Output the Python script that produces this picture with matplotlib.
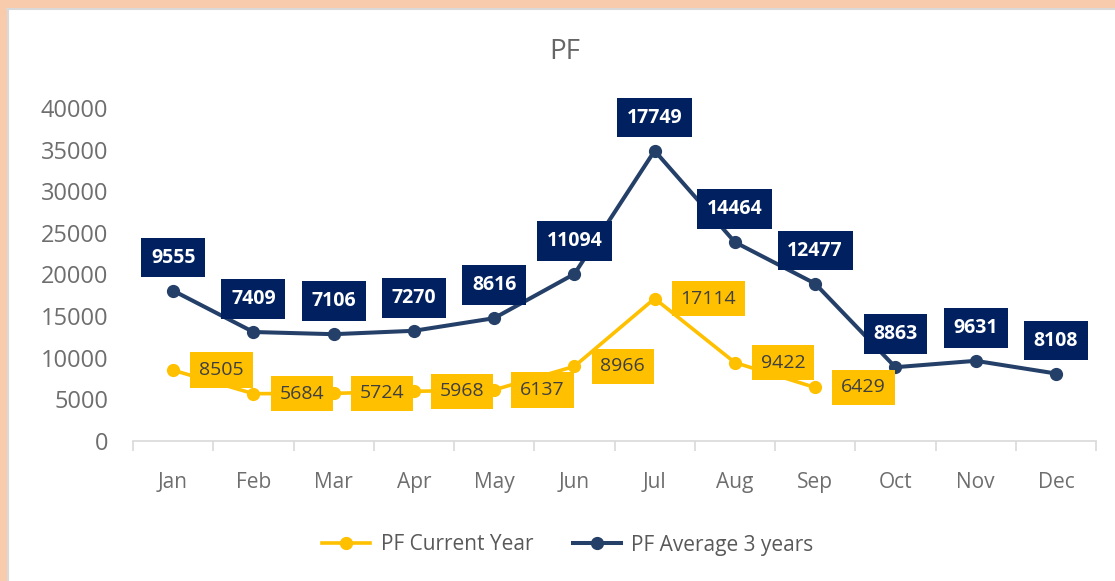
import numpy as np
import matplotlib.pyplot as plt
from matplotlib.patches import Rectangle
from matplotlib.lines import Line2D

months = ["Jan", "Feb", "Mar", "Apr", "May", "Jun",
          "Jul", "Aug", "Sep", "Oct", "Nov", "Dec"]
current_year = [8505, 5684, 5724, 5968, 6137, 8966, 17114, 9422, 6429,
                np.nan, np.nan, np.nan]
average_3y = [9555, 7409, 7106, 7270, 8616, 11094, 17749, 14464, 12477,
              8863, 9631, 8108]

plt.rcParams['font.family'] = ['Open Sans', 'DejaVu Sans']

x = np.arange(len(months))
cur = np.array(current_year, dtype=float)
avg = np.array(average_3y, dtype=float)
# stacked line chart: the 3-year average is drawn on top of the current year
avg_stacked = np.nan_to_num(cur) + avg

W, H = 1115, 581
fig = plt.figure(figsize=(W / 100, H / 100), dpi=100)

# peach frame on top and left edge
fig.patches.append(Rectangle((0, 1 - 7 / H), 1, 7 / H, transform=fig.transFigure,
                             color='#F8CBAD', zorder=0))
fig.patches.append(Rectangle((0, 0), 6 / W, 1, transform=fig.transFigure,
                             color='#F8CBAD', zorder=0))
fig.lines.append(Line2D([7 / W, 1], [1 - 9 / H, 1 - 9 / H], transform=fig.transFigure,
                        color='#D9D9D9', lw=1.5))
fig.lines.append(Line2D([7.5 / W, 7.5 / W], [0, 1 - 9 / H], transform=fig.transFigure,
                        color='#D9D9D9', lw=1.5))

fig.text(565 / W, 1 - 52 / H, "PF", ha='center', va='center',
         fontsize=20, color='#666666')

ax = fig.add_axes([133 / W, 140 / H, 963 / W, 333 / H])

ax.plot(x, cur, color='#FFC000', lw=2.6, marker='o', ms=8.5,
        label='PF Current Year', zorder=3)
ax.plot(x, avg_stacked, color='#243F68', lw=2.9, marker='o', ms=8.5,
        label='PF Average 3 years', zorder=3)

# data labels
for xi, yi, v in zip(x, avg_stacked, avg):
    ax.annotate(f"{v:.0f}", (xi, yi), xytext=(0, 33), textcoords='offset pixels',
                ha='center', va='center', color='white', fontweight='bold', fontsize=14,
                bbox=dict(boxstyle='square,pad=0.5', fc='#002060', ec='none'), zorder=5)
for xi, v in zip(x, cur):
    if np.isnan(v):
        continue
    ax.annotate(f"{v:.0f}", (xi, v), xytext=(26, 0), textcoords='offset pixels',
                ha='left', va='center', color='#3F3F3F', fontsize=14,
                bbox=dict(boxstyle='square,pad=0.45', fc='#FFC000', ec='none'), zorder=5)

ax.set_xlim(-0.5, 11.5)
ax.set_ylim(0, 40000)
ax.set_yticks(np.arange(0, 40001, 5000))
ax.set_xticks(x, months)
ax.set_xticks(np.arange(-0.5, 12, 1), minor=True)

for s in ['top', 'right', 'left']:
    ax.spines[s].set_visible(False)
ax.spines['bottom'].set_color('#D9D9D9')
ax.spines['bottom'].set_linewidth(1.2)

ax.tick_params(axis='y', length=0, pad=18, labelsize=17, labelcolor='#6E6E6E')
ax.tick_params(axis='x', which='major', length=0, pad=22, labelsize=15,
               labelcolor='#6E6E6E')
ax.tick_params(axis='x', which='minor', length=7, color='#D9D9D9', width=1.2)

leg = ax.legend(loc='center', bbox_to_anchor=(568 / W, 1 - 545 / H),
                bbox_transform=fig.transFigure, ncol=2, frameon=False, fontsize=15,
                handlelength=2.3, handletextpad=0.5, columnspacing=1.9)
for t in leg.get_texts():
    t.set_color('#595959')

fig.savefig('out.png', dpi=100)
